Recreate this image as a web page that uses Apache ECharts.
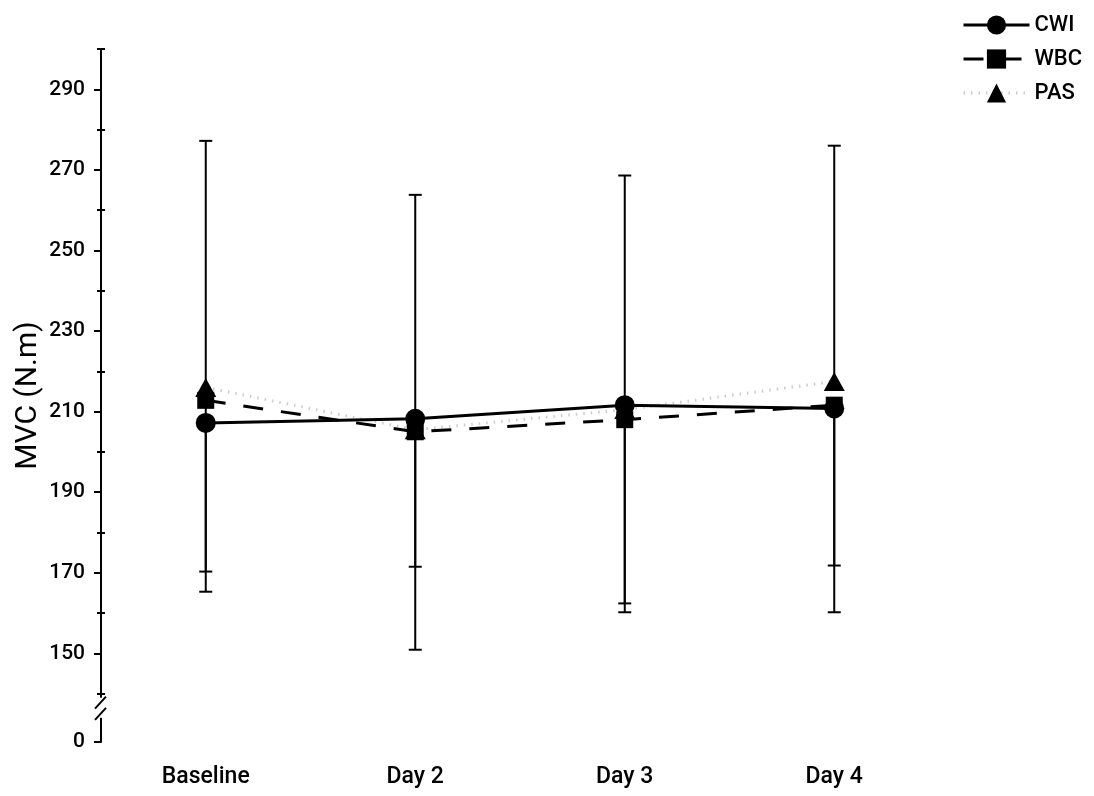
<!DOCTYPE html>
<html>
<head>
<meta charset="utf-8">
<script src="https://cdn.jsdelivr.net/npm/echarts@6/dist/echarts.min.js"></script>
<style>
html,body{margin:0;padding:0;background:#fff;}
#main{width:1094px;height:796px;}
</style>
</head>
<body>
<div id="main"></div>
<script>
// ---- data ----
const categories = ['Baseline', 'Day 2', 'Day 3', 'Day 4'];
const cwi = [207.2, 208.2, 211.6, 210.8];
const wbc = [212.8, 205.0, 208.0, 211.6];
const pas = [216.0, 205.5, 210.5, 217.5];
// error bar end points
const pasUpper = [277.2, 263.8, 268.6, 276.0];
const cwiLower = [165.3, 150.9, 160.2, 160.2];
const wbcLower = [170.3, 171.5, 162.4, 171.8];
// axis (broken: bottom value stands for 0)
const axisBottom = 128;
const axisTop = 300;
const majorTicks = [128, 150, 170, 190, 210, 230, 250, 270, 290];
const minorTicks = [140, 160, 180, 200, 220, 240, 260, 280, 300];

const FONT = 'Roboto';

function errData(vals, ends) {
  return vals.map((v, i) => [i, v, ends[i]]);
}
function errSeries(name, vals, ends) {
  return {
    type: 'custom',
    name: name + ' err',
    z: 1,
    silent: true,
    data: errData(vals, ends),
    encode: { x: 0, y: [1, 2] },
    renderItem: function (params, api) {
      const p1 = api.coord([api.value(0), api.value(1)]);
      const p2 = api.coord([api.value(0), api.value(2)]);
      const hw = 6.5;
      return {
        type: 'group',
        children: [
          { type: 'line', shape: { x1: p1[0], y1: p1[1], x2: p2[0], y2: p2[1] },
            style: { stroke: '#000', lineWidth: 2 } },
          { type: 'line', shape: { x1: p2[0] - hw, y1: p2[1], x2: p2[0] + hw, y2: p2[1] },
            style: { stroke: '#000', lineWidth: 2 } }
        ]
      };
    }
  };
}

const chart = echarts.init(document.getElementById('main'), null, { renderer: 'canvas' });

const baseY = {
  type: 'value', min: axisBottom, max: axisTop, position: 'left',
  splitLine: { show: false }
};

const option = {
  animation: false,
  backgroundColor: '#fff',
  grid: { left: 101, right: 155, top: 49, bottom: 54, containLabel: false },
  legend: {
    orient: 'vertical', left: 957, top: 9,
    itemWidth: 66, itemHeight: 24, itemGap: 12,
    lineStyle: { width: 3 },
    textStyle: { fontFamily: FONT, fontSize: 22, fontWeight: 500, color: '#000' },
    data: ['CWI', 'WBC', 'PAS']
  },
  xAxis: {
    type: 'category', data: categories, boundaryGap: true,
    axisLine: { show: false }, axisTick: { show: false },
    axisLabel: { margin: 24, fontFamily: FONT, fontSize: 23, fontWeight: 500, color: '#000' },
    splitLine: { show: false }
  },
  yAxis: [
    Object.assign({}, baseY, {
      name: 'MVC (N.m)', nameLocation: 'middle', nameGap: 58, nameMoveOverlap: false,
      nameTextStyle: { fontFamily: FONT, fontSize: 30, color: '#000' },
      axisLine: { show: true, lineStyle: { color: '#000', width: 2 } },
      axisTick: { show: true, inside: false, length: 7, customValues: majorTicks, lineStyle: { color: '#000', width: 2 } },
      axisLabel: {
        show: true, margin: 16, customValues: majorTicks,
        fontFamily: FONT, fontSize: 21, fontWeight: 500, color: '#000',
        formatter: v => (v === axisBottom ? '0' : String(v))
      }
    }),
    Object.assign({}, baseY, {
      axisLine: { show: false },
      axisTick: { show: true, inside: false, length: 4, customValues: minorTicks, lineStyle: { color: '#000', width: 2 } },
      axisLabel: { show: false }
    }),
    Object.assign({}, baseY, {
      axisLine: { show: false },
      axisTick: { show: true, inside: true, length: 4, customValues: minorTicks, lineStyle: { color: '#000', width: 2 } },
      axisLabel: { show: false }
    })
  ],
  series: [
    errSeries('PAS', pas, pasUpper),
    errSeries('CWI', cwi, cwiLower),
    errSeries('WBC', wbc, wbcLower),
    {
      name: 'PAS', type: 'line', data: pas, z: 3,
      symbol: 'triangle', symbolSize: [21, 19],
      itemStyle: { color: '#000' },
      lineStyle: { color: '#cccccc', width: 3, type: [1.5, 6] }
    },
    {
      name: 'WBC', type: 'line', data: wbc, z: 4,
      symbol: 'rect', symbolSize: 17,
      itemStyle: { color: '#000' },
      lineStyle: { color: '#000', width: 3, type: [20, 18] }
    },
    {
      name: 'CWI', type: 'line', data: cwi, z: 5,
      symbol: 'circle', symbolSize: 20,
      itemStyle: { color: '#000' },
      lineStyle: { color: '#000', width: 3, type: 'solid' }
    }
  ]
};
chart.setOption(option);

// axis break marks, positioned through the axis scale
function drawBreak() {
  const pTop = chart.convertToPixel({ yAxisIndex: 0 }, 139);
  const pBot = chart.convertToPixel({ yAxisIndex: 0 }, 134);
  const ax = 101;
  chart.setOption({
    graphic: [
      { type: 'rect', shape: { x: ax - 3, y: pTop, width: 6, height: pBot - pTop },
        style: { fill: '#fff' }, z: 100 },
      { type: 'line', shape: { x1: ax - 6, y1: pTop + 11, x2: ax + 5, y2: pTop - 1 },
        style: { stroke: '#000', lineWidth: 2 }, z: 101 },
      { type: 'line', shape: { x1: ax - 6, y1: pBot + 2, x2: ax + 5, y2: pBot - 10 },
        style: { stroke: '#000', lineWidth: 2 }, z: 101 }
    ]
  });
}
drawBreak();
</script>
</body>
</html>
